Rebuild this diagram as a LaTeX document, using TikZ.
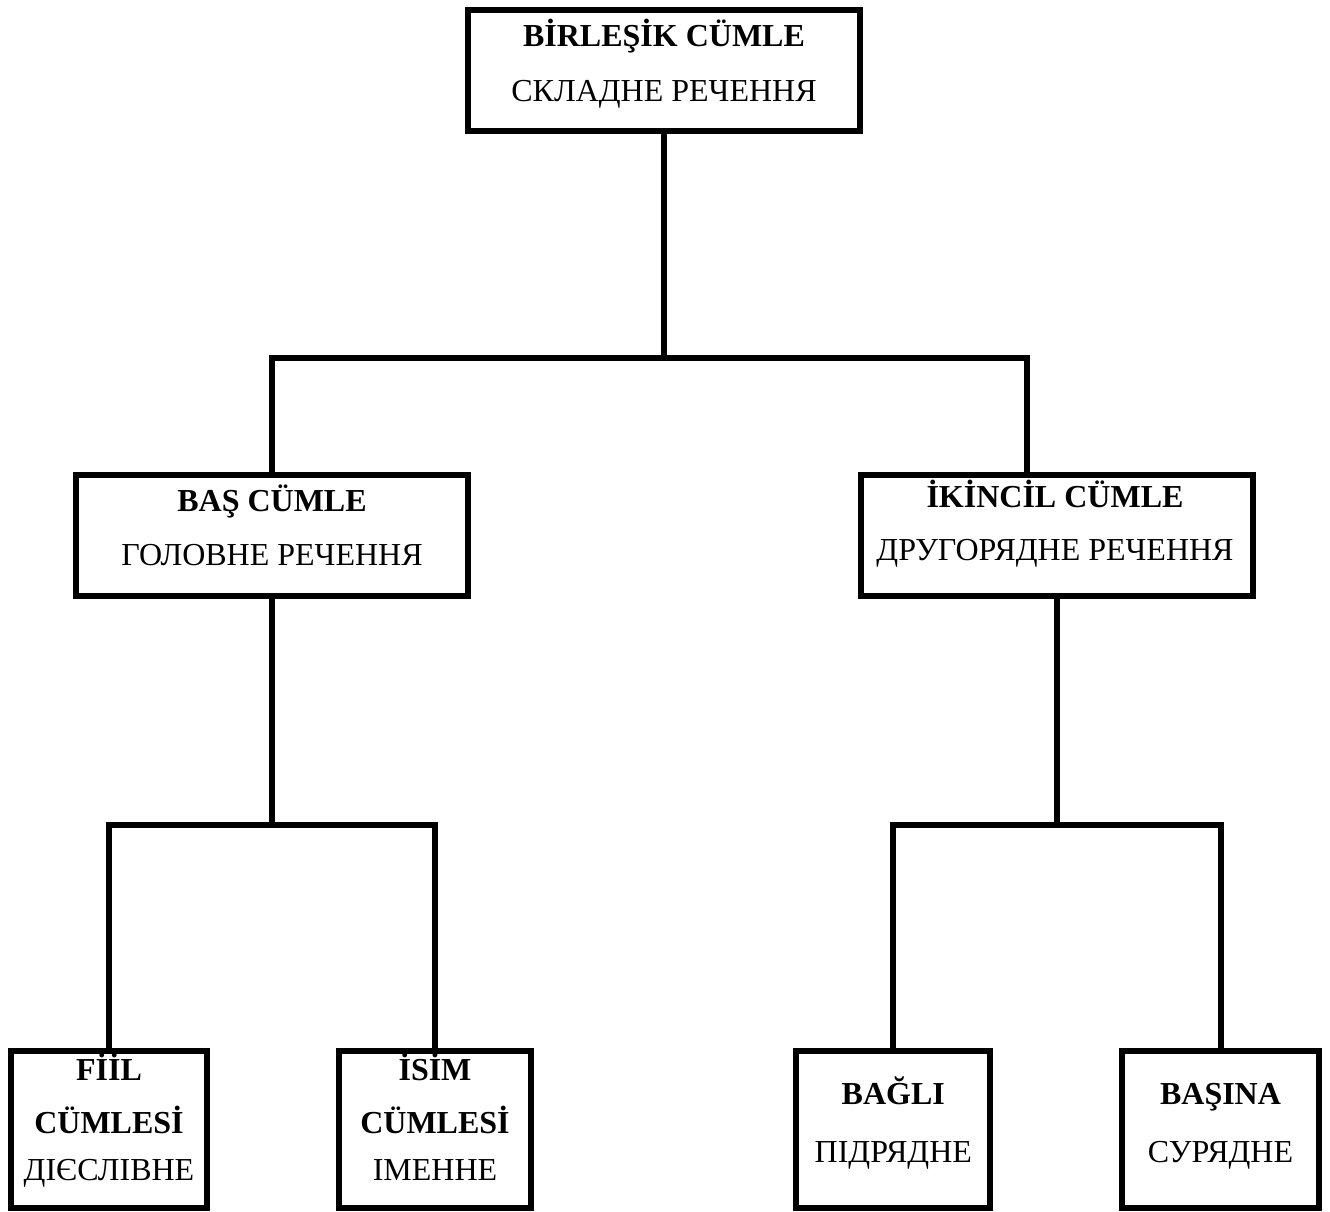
\documentclass[tikz,border=0pt]{standalone}
\usepackage{fontspec}
\setmainfont{Liberation Serif}
\begin{document}
\begin{tikzpicture}[x=1pt,y=-1pt,
  box/.style={draw=black,line width=6pt,rectangle,inner sep=0pt,fill=white},
  conn/.style={draw=black,line width=6pt,line join=miter},
  lbl/.style={anchor=base,inner sep=0pt,font=\fontsize{32}{38}\selectfont},
  lblb/.style={anchor=base,inner sep=0pt,font=\fontsize{32}{38}\selectfont\bfseries}]
\useasboundingbox (0,0) rectangle (1330,1212);

% boxes
\node[box,minimum width=392pt,minimum height=121pt] (top) at (664,70.5) {};
\node[box,minimum width=392pt,minimum height=121pt] (bas) at (272,535.5) {};
\node[box,minimum width=392pt,minimum height=121pt] (ikin) at (1057,535.5) {};
\node[box,minimum width=196pt,minimum height=157.5pt] (fiil) at (109,1129.25) {};
\node[box,minimum width=192pt,minimum height=157.5pt] (isim) at (435,1129.25) {};
\node[box,minimum width=194pt,minimum height=157.5pt] (bagli) at (893.3,1129.25) {};
\node[box,minimum width=197pt,minimum height=157.5pt] (basina) at (1220.5,1129.25) {};

% labels
\node[lblb] (t1) at (664,47) {BİRLEŞİK CÜMLE};
\node[lbl]  (t2) at (664,102) {СКЛАДНЕ РЕЧЕННЯ};
\node[lblb] (b1) at (272,511) {BAŞ CÜMLE};
\node[lbl]  (b2) at (272,565) {ГОЛОВНЕ РЕЧЕННЯ};
\node[lblb] (i1) at (1055,507) {İKİNCİL CÜMLE};
\node[lbl]  (i2) at (1055,560) {ДРУГОРЯДНЕ РЕЧЕННЯ};
\node[lblb] (f1) at (109,1080) {FİİL};
\node[lblb] (f2) at (109,1133) {CÜMLESİ};
\node[lbl]  (f3) at (109,1180) {ДІЄСЛІВНЕ};
\node[lblb] (s1) at (435,1080) {İSİM};
\node[lblb] (s2) at (435,1133) {CÜMLESİ};
\node[lbl]  (s3) at (435,1180) {ІМЕННЕ};
\node[lblb] (g1) at (893.3,1104) {BAĞLI};
\node[lbl]  (g2) at (893.3,1162) {ПІДРЯДНЕ};
\node[lblb] (n1) at (1220.5,1104) {BAŞINA};
\node[lbl]  (n2) at (1220.5,1162) {СУРЯДНЕ};

% connectors
\coordinate (a)  at (664,358);
\coordinate (aL) at (272,358);
\coordinate (aR) at (1027,358);
\draw[conn] (top.south) -- (a);
\draw[conn] (bas.north) -- (aL) -- (aR) -- (aR |- ikin.north);

\coordinate (bL) at (109,824.5);
\coordinate (bR) at (435,824.5);
\draw[conn] (bas.south) -- (bas.south |- bL);
\draw[conn] (fiil.north) -- (bL) -- (bR) -- (isim.north);

\coordinate (cL) at (893.3,824.5);
\coordinate (cR) at (1220.5,824.5);
\draw[conn] (ikin.south) -- (ikin.south |- cL);
\draw[conn] (bagli.north) -- (cL) -- (cR) -- (basina.north);
\end{tikzpicture}
\end{document}
